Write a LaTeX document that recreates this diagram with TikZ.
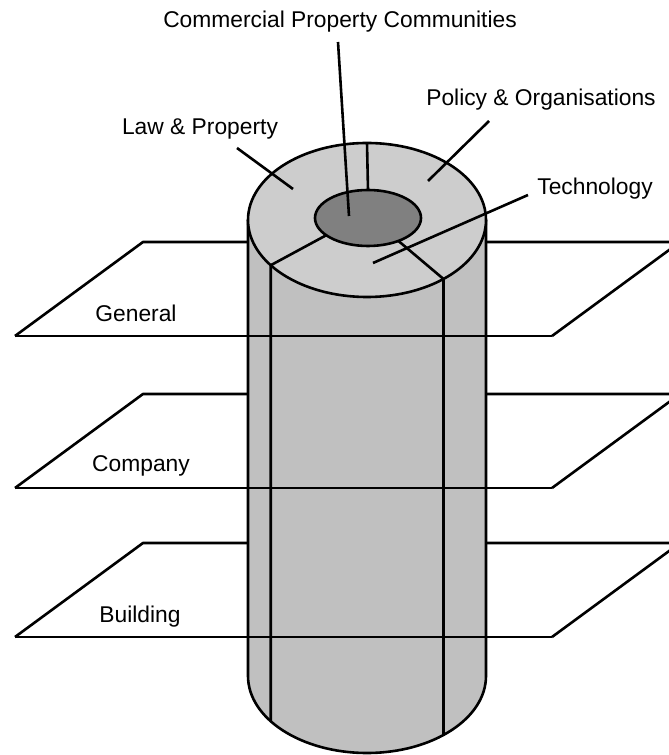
\documentclass[tikz,border=0pt]{standalone}
\usepackage{fontspec}
\setmainfont{Liberation Sans}
\usetikzlibrary{calc}
\definecolor{ringgray}{HTML}{CDCDCD}
\definecolor{sidegray}{HTML}{C0C0C0}
\definecolor{coregray}{HTML}{808080}
\begin{document}
\begin{tikzpicture}[x=1pt, y=1pt, line width=2.6pt, line join=round,
	label/.style={anchor=base, inner sep=0pt, font=\fontsize{22.8}{27}\selectfont}]
	\useasboundingbox (0,0) rectangle (669,755);
	\clip (0,0) rectangle (669,755);

	% Planes (back edges)
	\begin{scope}
		\coordinate (genbl) at (15,419);
		\coordinate (genbr) at (552,419);
		\coordinate (gentl) at (143,513);
		\coordinate (gentr) at (680,513);
		\draw (genbl) -- (gentl) -- (gentr) -- (genbr);

		\coordinate (compbl) at (15,267);
		\coordinate (compbr) at (552,267);
		\coordinate (comptl) at (143,361);
		\coordinate (comptr) at (680,361);
		\draw (compbl) -- (comptl) -- (comptr) -- (compbr);

		\coordinate (buildbl) at (15,118);
		\coordinate (buildbr) at (552,118);
		\coordinate (buildtl) at (143,212);
		\coordinate (buildtr) at (680,212);
		\draw (buildbl) -- (buildtl) -- (buildtr) -- (buildbr);

		\node[label] (gentext) at (136,433) {General};
		\node[label] (comptext) at (141,283) {Company};
		\node[label] (buildtext) at (140,132) {Building};
	\end{scope}

	% Cylinder
	\begin{scope}
		\coordinate (topc) at (367,535);
		\coordinate (botc) at (367,79);
		\coordinate (corec) at (368,537);
		\coordinate (cylleft) at (248,535);
		\coordinate (cylright) at (486,535);
		\coordinate (cylleftbottom) at (248,79);
		\filldraw[fill=sidegray] (cylleft) -- (cylleftbottom) arc (180:360:119 and 77) -- (cylright);
		\filldraw[fill=ringgray] (topc) ellipse (119 and 77);
		\filldraw[fill=coregray] (corec) ellipse (53 and 28);

		% Dividers
		\coordinate (ringtop) at ($(topc)+(90:119 and 77)$);
		\coordinate (coretop) at ($(corec)+(90:53 and 28)$);
		\coordinate (ringleft) at ($(topc)+(216:119 and 77)$);
		\coordinate (baseleft) at ($(botc)+(216:119 and 77)$);
		\coordinate (coreleft) at ($(corec)+(218:53 and 28)$);
		\coordinate (ringright) at ($(topc)+(310:119 and 77)$);
		\coordinate (baseright) at ($(botc)+(310:119 and 77)$);
		\coordinate (coreright) at ($(corec)+(305:53 and 28)$);
		\draw (ringtop) -- (coretop);
		\draw (coreleft) -- (ringleft) -- (baseleft);
		\draw (coreright) -- (ringright) -- (baseright);
	\end{scope}

	% Planes (front edges)
	\draw (genbl) -- (genbr);
	\draw (compbl) -- (compbr);
	\draw (buildbl) -- (buildbr);

	% Labels
	\node[label] (cpctext) at (340,727) {Commercial Property Communities};
	\node[label] (lawtext) at (200,620) {Law \& Property};
	\node[label] (policytext) at (541,649) {Policy \& Organisations};
	\node[label] (techtext) at (595,560) {Technology};

	\coordinate (cpcfoot) at (338,713);
	\coordinate (cpctip) at (349,539);
	\coordinate (lawfoot) at (237,607);
	\coordinate (lawtip) at (293,566);
	\coordinate (policyfoot) at (489,634);
	\coordinate (policytip) at (428,574);
	\coordinate (techfoot) at (528,560);
	\coordinate (techtip) at (373,492);
	\draw (cpcfoot) -- (cpctip);
	\draw (lawfoot) -- (lawtip);
	\draw (policyfoot) -- (policytip);
	\draw (techfoot) -- (techtip);
\end{tikzpicture}
\end{document}
